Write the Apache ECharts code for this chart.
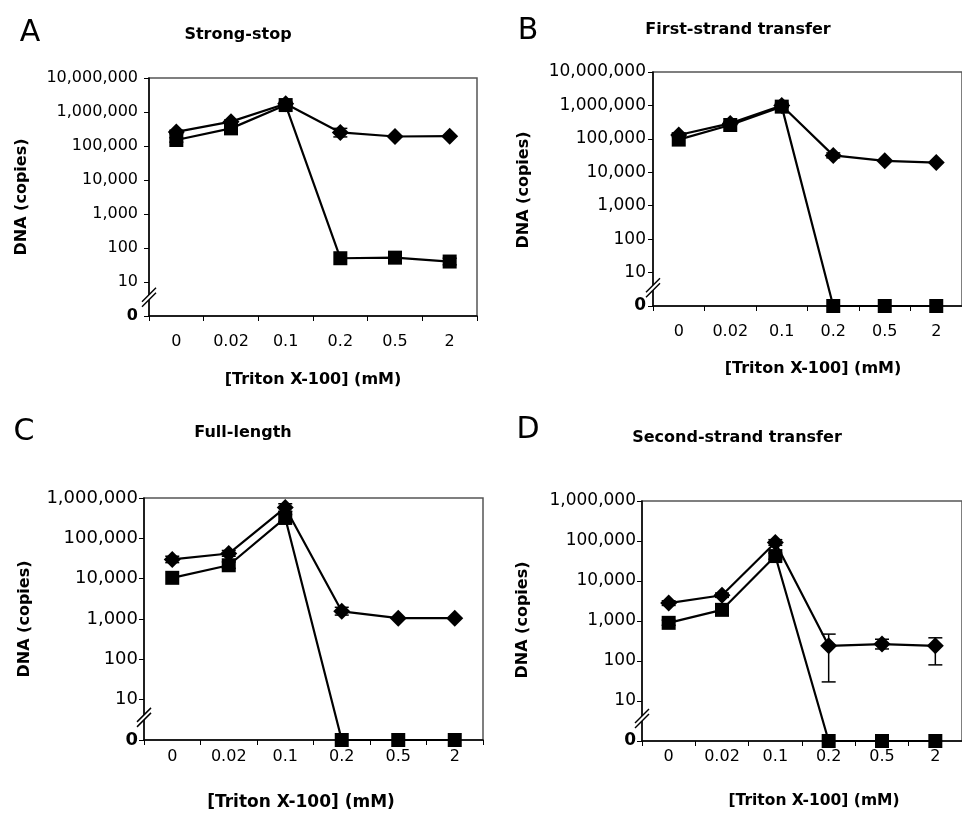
<!DOCTYPE html>
<html><head><meta charset="utf-8">
<script src="https://cdn.jsdelivr.net/npm/echarts@6/dist/echarts.min.js"></script>
<style>html,body{margin:0;padding:0;background:#fff}#c{width:962px;height:814px}</style>
</head><body><div id="c"></div>
<script>
// ---------- data ----------
const categories = ['0', '0.02', '0.1', '0.2', '0.5', '2'];
const panelTitles = ['Strong-stop', 'First-strand transfer', 'Full-length', 'Second-strand transfer'];
const panelLetters = ['A', 'B', 'C', 'D'];
const xAxisTitle = '[Triton X-100] (mM)';
const yAxisTitle = 'DNA (copies)';
const yMaxValues = [10000000, 10000000, 1000000, 1000000];

// Panel A: Strong-stop
const diamondA   = [260000, 520000, 1750000, 250000, 190000, 195000];
const diamondLoA = [230000, 460000, 1550000, 185000, null, null];
const diamondHiA = [290000, 580000, 1950000, 330000, null, null];
const squareA    = [150000, 330000, 1600000, 50, 52, 40];
const squareLoA  = [130000, 280000, null, null, null, 32];
const squareHiA  = [175000, 390000, null, null, null, 50];

// Panel B: First-strand transfer
const diamondB   = [130000, 290000, 1000000, 32000, 22000, 19500];
const diamondLoB = [115000, 260000, 880000, 27000, null, null];
const diamondHiB = [150000, 320000, 1150000, 38000, null, null];
const squareB    = [95000, 260000, 920000, 0, 0, 0];
const squareLoB  = [null, null, null, null, null, null];
const squareHiB  = [null, null, null, null, null, null];

// Panel C: Full-length
const diamondC   = [30000, 42000, 580000, 1550, 1050, 1050];
const diamondLoC = [25000, 36000, 470000, 1250, null, null];
const diamondHiC = [36000, 50000, 720000, 1950, null, null];
const squareC    = [10500, 21500, 320000, 0, 0, 0];
const squareLoC  = [null, 18000, 260000, null, null, null];
const squareHiC  = [null, 26000, 390000, null, null, null];

// Panel D: Second-strand transfer
const diamondD   = [2800, 4400, 92000, 240, 265, 240];
const diamondLoD = [2450, 3900, 78000, 30, 200, 80];
const diamondHiD = [3200, 5000, 108000, 470, 350, 380];
const squareD    = [900, 1900, 42000, 0, 0, 0];
const squareLoD  = [780, 1600, 35000, null, null, null];
const squareHiD  = [1050, 2250, 50000, null, null, null];

const panelData = [
  {d: diamondA, dLo: diamondLoA, dHi: diamondHiA, s: squareA, sLo: squareLoA, sHi: squareHiA},
  {d: diamondB, dLo: diamondLoB, dHi: diamondHiB, s: squareB, sLo: squareLoB, sHi: squareHiB},
  {d: diamondC, dLo: diamondLoC, dHi: diamondHiC, s: squareC, sLo: squareLoC, sHi: squareHiC},
  {d: diamondD, dLo: diamondLoD, dHi: diamondHiD, s: squareD, sLo: squareLoD, sHi: squareHiD}
];

// ---------- layout ----------
const layout = [
  {grid: {left: 149, top: 78, width: 328, height: 238}, yFont: 16, yMargin: 11, xMargin: 18, title: [238, 35], letter: [30, 33], yName: [22, 197], xName: [313, 380], xNameFont: 16},
  {grid: {left: 653, top: 72, width: 318, height: 234}, yFont: 17, yMargin: 7, xMargin: 18, title: [738, 30], letter: [528, 31], yName: [524, 190], xName: [813, 369], xNameFont: 16},
  {grid: {left: 144, top: 498, width: 339, height: 242}, yFont: 18, yMargin: 6, xMargin: 9, title: [243, 433], letter: [24, 432], yName: [25, 619], xName: [301, 803], xNameFont: 17},
  {grid: {left: 642, top: 501, width: 330, height: 240}, yFont: 17, yMargin: 6, xMargin: 8, title: [737, 438], letter: [528, 430], yName: [523, 620], xName: [814, 801], xNameFont: 15.5}
];

const FONT = 'DejaVu Sans';
const plotVal = v => (v === 0 ? 1 : v);   // 0 is drawn on the broken-axis "0" position

function errRender(params, api) {
  const i = api.value(0);
  const p1 = api.coord([i, api.value(1)]);
  const p2 = api.coord([i, api.value(2)]);
  const w = 7;
  const st = {stroke: '#000', lineWidth: 1.5};
  return {type: 'group', children: [
    {type: 'line', shape: {x1: p1[0], y1: p1[1], x2: p2[0], y2: p2[1]}, style: st},
    {type: 'line', shape: {x1: p1[0] - w, y1: p1[1], x2: p1[0] + w, y2: p1[1]}, style: st},
    {type: 'line', shape: {x1: p2[0] - w, y1: p2[1], x2: p2[0] + w, y2: p2[1]}, style: st}
  ]};
}

const grids = [], xAxes = [], yAxes = [], series = [];
layout.forEach((L, k) => {
  grids.push(Object.assign({show: true, borderColor: '#555', borderWidth: 1.5, backgroundColor: 'transparent', containLabel: false}, L.grid));
  xAxes.push({
    type: 'category', gridIndex: k, data: categories, boundaryGap: true,
    axisLine: {lineStyle: {color: '#000', width: 1.5}},
    axisTick: {show: true, length: 5, lineStyle: {color: '#000', width: 1}},
    axisLabel: {margin: L.xMargin, color: '#000', fontFamily: FONT, fontSize: 16},
    splitLine: {show: false}
  });
  yAxes.push({
    type: 'log', logBase: 10, gridIndex: k, min: 1, max: yMaxValues[k],
    splitNumber: Math.round(Math.log10(yMaxValues[k])),
    axisLine: {show: true, lineStyle: {color: '#000', width: 1.5}},
    axisTick: {show: true, length: 5, lineStyle: {color: '#000', width: 1}},
    splitLine: {show: false},
    axisLabel: {
      margin: L.yMargin, color: '#000', fontFamily: FONT, fontSize: L.yFont,
      formatter: v => { const r = Math.round(v); return r === 1 ? '{z|0}' : r.toLocaleString('en-US'); },
      rich: {z: {fontWeight: 'bold', fontFamily: FONT, fontSize: L.yFont, color: '#000'}}
    }
  });
  const P = panelData[k];
  const mk = (arr) => arr.map(plotVal);
  series.push({
    type: 'line', xAxisIndex: k, yAxisIndex: k, data: mk(P.d), symbol: 'diamond', symbolSize: 17,
    lineStyle: {color: '#000', width: 2.2}, itemStyle: {color: '#000'}, z: 3
  });
  series.push({
    type: 'line', xAxisIndex: k, yAxisIndex: k, data: mk(P.s), symbol: 'rect', symbolSize: 14,
    lineStyle: {color: '#000', width: 2.2}, itemStyle: {color: '#000'}, z: 3
  });
  const errData = [];
  categories.forEach((c, i) => {
    if (P.dLo[i] != null) errData.push([i, P.dLo[i], P.dHi[i]]);
    if (P.sLo[i] != null) errData.push([i, P.sLo[i], P.sHi[i]]);
  });
  series.push({
    type: 'custom', xAxisIndex: k, yAxisIndex: k, data: errData, renderItem: errRender,
    encode: {x: 0, y: [1, 2]}, z: 2, silent: true
  });
});

const chart = echarts.init(document.getElementById('c'), null, {renderer: 'canvas'});
chart.setOption({
  animation: false,
  backgroundColor: '#fff',
  grid: grids, xAxis: xAxes, yAxis: yAxes, series: series
});

// decorations: titles, panel letters, axis names, axis-break marks
const graphics = [];
layout.forEach((L, k) => {
  graphics.push({type: 'text', x: L.title[0], y: L.title[1], z: 10,
    style: {text: panelTitles[k], fill: '#000', font: 'bold 16px "' + FONT + '"', textAlign: 'center', textVerticalAlign: 'middle'}});
  graphics.push({type: 'text', x: L.letter[0], y: L.letter[1], z: 10,
    style: {text: panelLetters[k], fill: '#000', font: '30px "' + FONT + '"', textAlign: 'center', textVerticalAlign: 'middle'}});
  graphics.push({type: 'text', x: L.yName[0], y: L.yName[1], rotation: Math.PI / 2, z: 10,
    style: {text: yAxisTitle, fill: '#000', font: 'bold 16px "' + FONT + '"', textAlign: 'center', textVerticalAlign: 'middle'}});
  graphics.push({type: 'text', x: L.xName[0], y: L.xName[1], z: 10,
    style: {text: xAxisTitle, fill: '#000', font: 'bold ' + L.xNameFont + 'px "' + FONT + '"', textAlign: 'center', textVerticalAlign: 'middle'}});
  const by = chart.convertToPixel({yAxisIndex: k}, 4.2);
  const bx = L.grid.left;
  graphics.push({type: 'polygon', z: 20, shape: {points: [[bx - 7, by + 7], [bx + 7, by - 7], [bx + 7, by - 2], [bx - 7, by + 12]]}, style: {fill: '#fff'}});
  graphics.push({type: 'line', z: 21, shape: {x1: bx - 7, y1: by + 7, x2: bx + 7, y2: by - 7}, style: {stroke: '#000', lineWidth: 1.5}});
  graphics.push({type: 'line', z: 21, shape: {x1: bx - 7, y1: by + 12, x2: bx + 7, y2: by - 2}, style: {stroke: '#000', lineWidth: 1.5}});
});
chart.setOption({graphic: graphics});
</script>
</body></html>
